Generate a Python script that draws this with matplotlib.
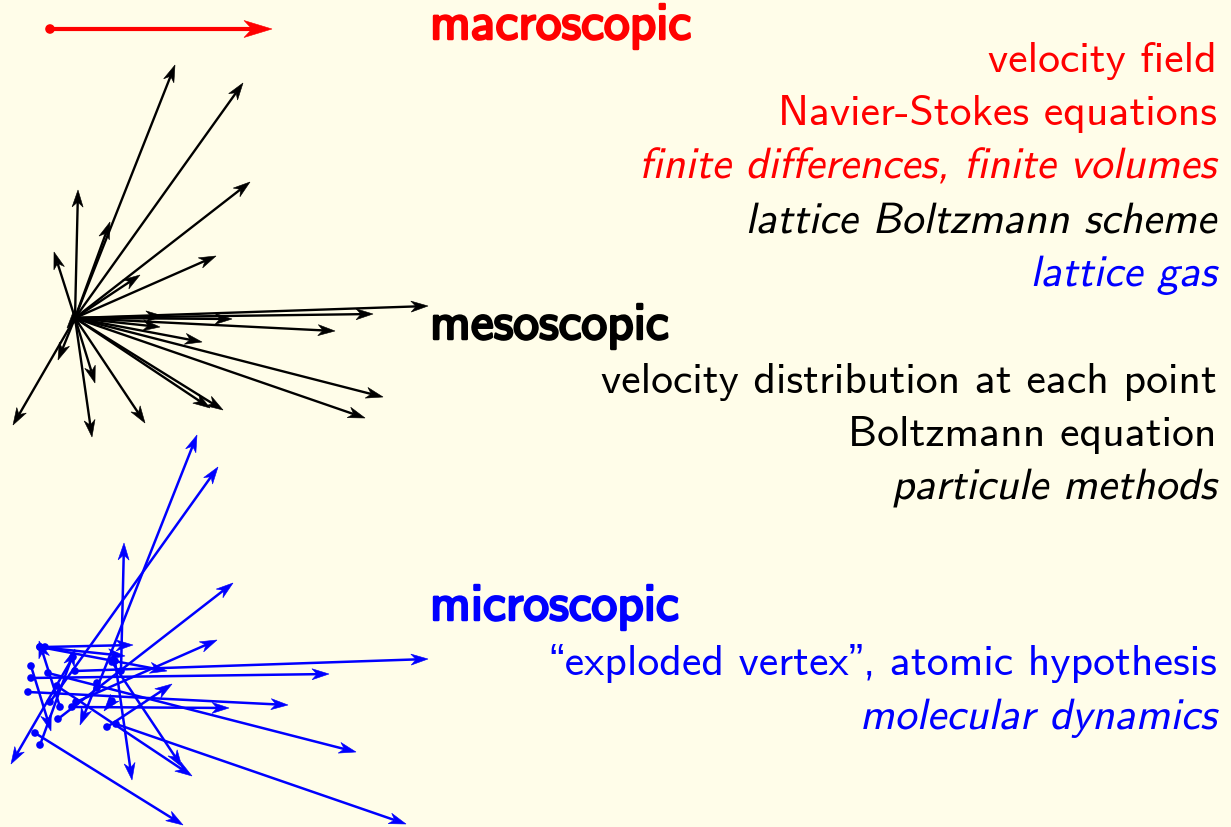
import numpy as np
import matplotlib
matplotlib.use("Agg")
import matplotlib.pyplot as plt
from matplotlib.patches import Polygon, Circle
from matplotlib.patheffects import AbstractPathEffect, Stroke, Normal
from matplotlib.transforms import Affine2D

# ---------------- data ----------------
# velocity vectors (pixel units, y downwards) of the mesoscopic fan
vel_dx = [100, 168, 175, 3, 35, -21, 65, 141, 353, 298, 157, 88, 260, 85, 127,
          308, 290, 148, 135, 70, 17, 20, -62, -17, -8]
vel_dy = [-253, -235, -136, -128, -96, -66, -43, -62, -12, -4, 1, -2, 13, 9, 24,
          79, 100, 92, 90, 105, 119, 65, 107, 42, 10]
meso_origin = (75, 318)

# microscopic: same velocities, tails exploded
micro_tail_x = [97, 50, 58, 121, 40, 60, 107, 76, 75, 31, 72, 45, 28, 40, 40,
                48, 116, 35, 57, 112, 115, 31, 73, 97, 112]
micro_tail_y = [688, 702, 719, 671, 745, 707, 727, 702, 671, 678, 707, 647, 692, 647, 647,
                673, 724, 733, 686, 662, 661, 666, 657, 683, 701]

# macroscopic mean velocity
macro_tail = (50, 29)
macro_vec = (222, 0)

RED, BLACK, BLUE = "#ff0000", "#000000", "#0000ff"
BG = "#fffde9"

headings = [("macroscopic", 430, 39, RED),
            ("mesoscopic", 430, 339, BLACK),
            ("microscopic", 430, 620, BLUE)]

lines_text = ["velocity field", "Navier-Stokes equations",
              "finite differences, finite volumes", "lattice Boltzmann scheme",
              "lattice gas",
              "velocity distribution at each point", "Boltzmann equation",
              "particule methods",
              "\u201cexploded vertex\u201d, atomic hypothesis", "molecular dynamics"]
lines_y = [72, 125, 178, 233, 286, 393, 446, 499, 675, 729]
lines_color = [RED, RED, RED, BLACK, BLUE, BLACK, BLACK, BLACK, BLUE, BLUE]
lines_italic = [False, False, True, True, True, False, False, True, False, True]

FAMILY = ["cmss10", "Liberation Sans", "DejaVu Sans"]


class Skew(AbstractPathEffect):
    def __init__(self, deg=12):
        super().__init__()
        self.t = Affine2D().skew_deg(deg, 0)

    def draw_path(self, renderer, gc, tpath, affine, rgbFace=None):
        renderer.draw_path(gc, tpath, self.t + affine, rgbFace)


def arrow(ax, x0, y0, x1, y1, color, lw, L, W, notch, dot=0):
    dx, dy = x1 - x0, y1 - y0
    n = np.hypot(dx, dy)
    ux, uy = dx / n, dy / n
    px, py = -uy, ux
    bx, by = x1 - ux * L, y1 - uy * L
    ix, iy = x1 - ux * (L - notch), y1 - uy * (L - notch)
    ax.plot([x0, ix], [y0, iy], color=color, lw=lw, solid_capstyle="butt", zorder=2)
    ax.add_patch(Polygon([(x1, y1), (bx + px * W, by + py * W), (ix, iy),
                          (bx - px * W, by - py * W)], closed=True,
                         fc=color, ec=color, lw=0.4, zorder=3))
    if dot:
        ax.add_patch(Circle((x0, y0), dot, fc=color, ec="none", zorder=3))


fig = plt.figure(figsize=(12.31, 8.27), dpi=100, facecolor=BG)
ax = fig.add_axes([0, 0, 1, 1])
ax.set_facecolor(BG)
ax.set_xlim(0, 1231)
ax.set_ylim(827, 0)
ax.axis("off")

# macroscopic arrow
arrow(ax, macro_tail[0], macro_tail[1], macro_tail[0] + macro_vec[0],
      macro_tail[1] + macro_vec[1], RED, 3.0, 28, 8.5, 8, dot=4.8)

# mesoscopic fan
ox, oy = meso_origin
for dx, dy in zip(vel_dx, vel_dy):
    arrow(ax, ox, oy, ox + dx, oy + dy, BLACK, 1.7, 17, 5.5, 5)

# microscopic exploded vertex
for tx, ty, dx, dy in zip(micro_tail_x, micro_tail_y, vel_dx, vel_dy):
    arrow(ax, tx, ty, tx + dx, ty + dy, BLUE, 1.8, 17, 5.5, 5, dot=3.8)

FS = 31.5
for s, x, y, c in headings:
    ax.text(x, y, s, color=c, fontsize=37, family=FAMILY,
            ha="left", va="baseline",
            path_effects=[Stroke(linewidth=1.8, foreground=c), Normal()])

for s, y, c, it in zip(lines_text, lines_y, lines_color, lines_italic):
    pe = [Skew(12)] if it else None
    ax.text(1217, y, s, color=c, fontsize=FS, family=FAMILY,
            ha="right", va="baseline", path_effects=pe)

fig.savefig("out.png", dpi=100, facecolor=BG)
